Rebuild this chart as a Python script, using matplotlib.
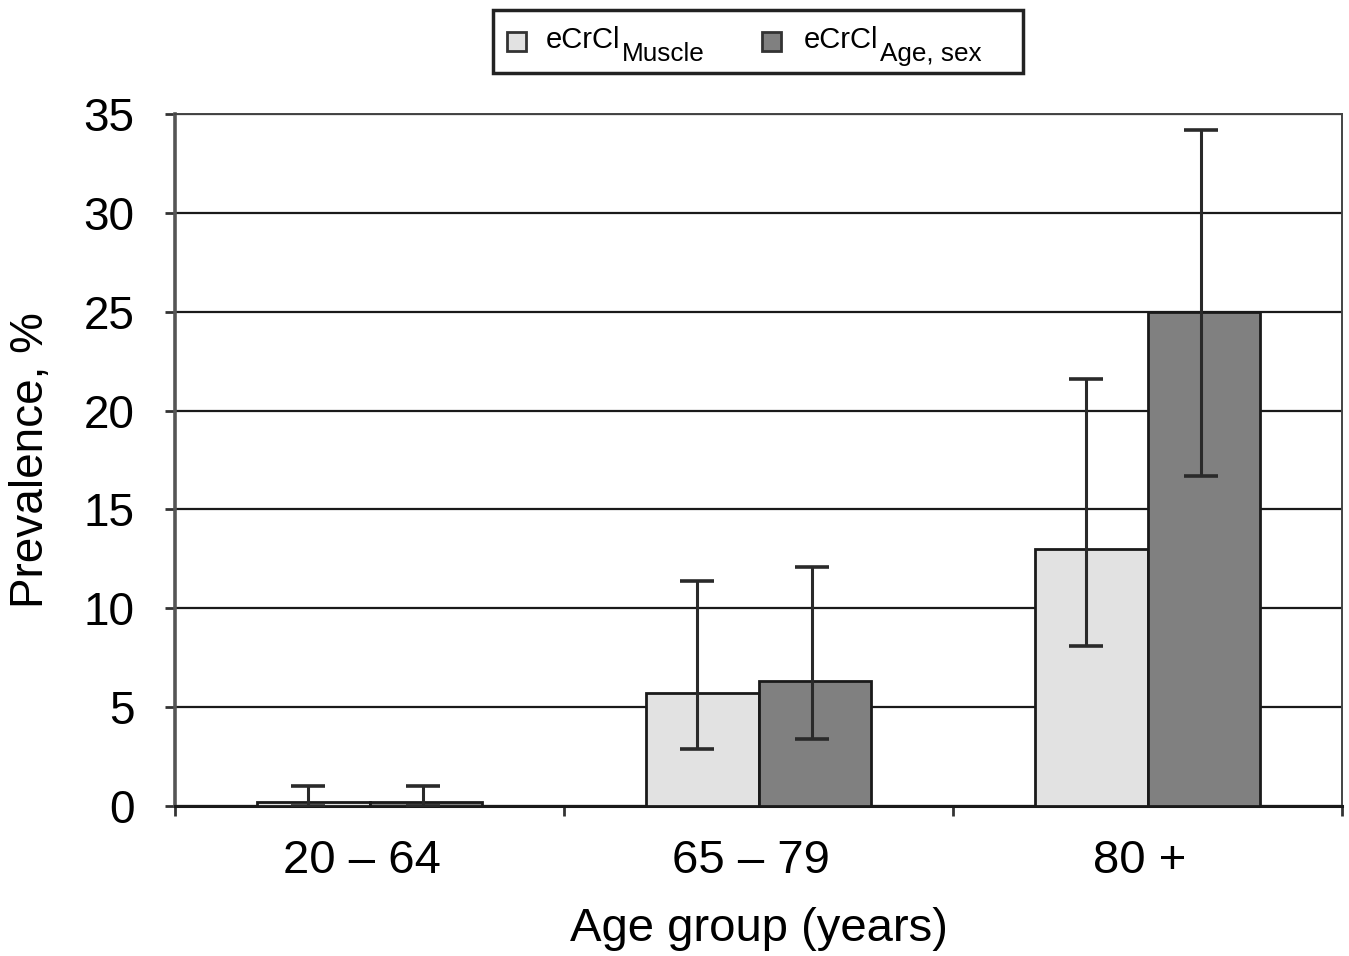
import matplotlib
matplotlib.use("Agg")
import matplotlib.pyplot as plt
import matplotlib.transforms as mtransforms
from matplotlib.patches import Rectangle
import numpy as np

plt.rcParams['font.family'] = ['Liberation Sans', 'DejaVu Sans']

categories = ['20 – 64', '65 – 79', '80 +']
muscle = [0.2, 5.7, 13.0]
muscle_lo = [0.0, 2.9, 8.1]
muscle_hi = [1.0, 11.4, 21.6]
agesex = [0.2, 6.3, 25.0]
agesex_lo = [0.0, 3.4, 16.7]
agesex_hi = [1.0, 12.1, 34.2]
yticks = [0, 5, 10, 15, 20, 25, 30, 35]
legend_main = ['eCrCl', 'eCrCl']
legend_sub = ['Muscle', 'Age, sex']

W, H = 1349, 956
fig = plt.figure(figsize=(W/100, H/100), dpi=100)
ax = fig.add_axes([175/W, 1-806/H, (1342-175)/W, (806-114)/H])

light = '#e2e2e2'
dark = '#808080'
edge = '#1a1a1a'

x = np.arange(len(categories))
w = 0.29
ax.bar(x - w/2, muscle, w, color=light, edgecolor=edge, linewidth=2, zorder=3)
ax.bar(x + w/2, agesex, w, color=dark, edgecolor=edge, linewidth=2, zorder=3)

m_err = [np.array(muscle) - np.array(muscle_lo), np.array(muscle_hi) - np.array(muscle)]
a_err = [np.array(agesex) - np.array(agesex_lo), np.array(agesex_hi) - np.array(agesex)]
ax.errorbar(x - w/2 - 0.012, muscle, yerr=m_err, fmt='none', ecolor='#2a2a2a',
            elinewidth=2.2, capsize=12, capthick=2.6, zorder=4)
ax.errorbar(x + w/2 - 0.008, agesex, yerr=a_err, fmt='none', ecolor='#2a2a2a',
            elinewidth=2.2, capsize=12, capthick=2.6, zorder=4)

ax.set_xlim(-0.5, 2.5)
ax.set_ylim(0, 35)
ax.set_yticks(yticks)
ax.set_yticklabels([str(t) for t in yticks], fontsize=33)
ax.set_xticks(x)
ax.set_xticklabels(categories, fontsize=34)
ax.tick_params(axis='x', length=0, pad=24)
ax.set_xticks([-0.5, 0.5, 1.5, 2.5], minor=True)
ax.tick_params(axis='x', which='minor', length=7, width=2, color='#333333', direction='out')
ax.tick_params(axis='y', length=7, width=2, color='#333333', pad=22)

shift = mtransforms.ScaledTranslation(-8/100, 0, fig.dpi_scale_trans)
for lab in ax.get_xticklabels():
    lab.set_transform(lab.get_transform() + shift)

ax.yaxis.grid(True, color='#1a1a1a', linewidth=1.6, zorder=0)
ax.set_axisbelow(True)
for s in ax.spines.values():
    s.set_color('#444444')
    s.set_linewidth(1.4)
ax.spines['left'].set_linewidth(2.6)
ax.spines['left'].set_color('#555555')
ax.spines['bottom'].set_linewidth(2.2)
ax.spines['bottom'].set_color('#1a1a1a')

ax.set_xlabel('Age group (years)', fontsize=34, labelpad=17)
ax.set_ylabel('Prevalence, %', fontsize=33, labelpad=22)

# Legend drawn in figure pixel coordinates (top-origin helpers)
def fx(px):
    return px / W

def fy(py):
    return 1 - py / H

fig.patches.append(Rectangle((fx(493), fy(73)), fx(1023) - fx(493), fy(10) - fy(73),
                             transform=fig.transFigure, facecolor='white',
                             edgecolor='#222222', linewidth=2.5, zorder=5))
handles_x = [507, 762]
text_x = [546, 804]
fills = [light, dark]
renderer = fig.canvas.get_renderer()
for hx, tx, fc, main, sub in zip(handles_x, text_x, fills, legend_main, legend_sub):
    fig.patches.append(Rectangle((fx(hx), fy(51)), fx(19), 19/H,
                                 transform=fig.transFigure, facecolor=fc,
                                 edgecolor='#333333', linewidth=2, zorder=6))
    t = fig.text(fx(tx), fy(48), main, fontsize=21, ha='left', va='baseline', zorder=6)
    bb = t.get_window_extent(renderer)
    fig.text(bb.x1 / W + 1/W, fy(61), sub, fontsize=18.8, ha='left', va='baseline', zorder=6)

fig.savefig('out.png', dpi=100)
